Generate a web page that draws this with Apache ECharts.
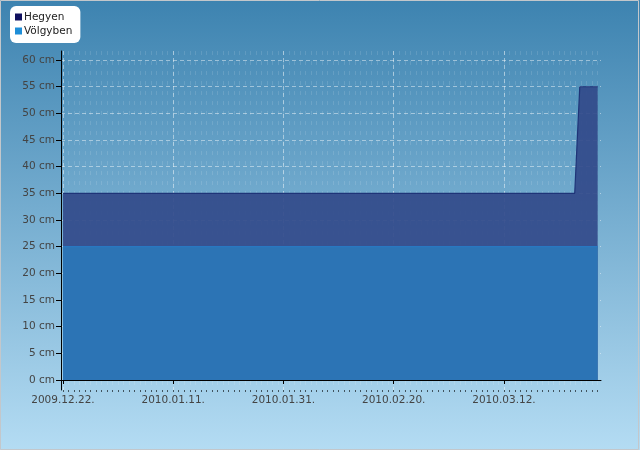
<!DOCTYPE html>
<html><head><meta charset="utf-8">
<script src="https://cdn.jsdelivr.net/npm/echarts@6/dist/echarts.min.js"></script>
<style>html,body{margin:0;padding:0;background:#fff}#c{width:640px;height:450px}</style>
</head><body><div id="c"></div>
<script>
// ---- data ----
const dates = ['2009-12-22 00:00', '2010-03-24 20:00', '2010-03-25 18:00', '2010-03-29 00:00'];
const hegyen = [35, 35, 55, 55];
const volgyben = [25, 25, 25, 25];
const xTickLabels = ['2009.12.22.', '2010.01.11.', '2010.01.31.', '2010.02.20.', '2010.03.12.'];
const yTickValues = [0, 5, 10, 15, 20, 25, 30, 35, 40, 45, 50, 55, 60];
const seriesNames = ['Hegyen', 'Völgyben'];

const DAY = 86400000;
function parseDash(s) {
  const [d, tm] = s.split(' ');
  const p = d.split('-').map(Number);
  const h = tm ? tm.split(':').map(Number) : [0, 0];
  return Date.UTC(p[0], p[1] - 1, p[2], h[0], h[1]);
}
function parseDot(s) { const p = s.split('.').filter(x => x).map(Number); return Date.UTC(p[0], p[1] - 1, p[2]); }
function fmt(v) {
  const d = new Date(v);
  const pad = n => (n < 10 ? '0' : '') + n;
  return d.getUTCFullYear() + '.' + pad(d.getUTCMonth() + 1) + '.' + pad(d.getUTCDate()) + '.';
}
const t0 = parseDash(dates[0]);
const tEnd = parseDash(dates[dates.length - 1]);
const xMajor = xTickLabels.map(parseDot);
const xMinor = [];
for (let t = t0; t <= tEnd; t += DAY) xMinor.push(t);
const xMin = t0 - 0.36 * DAY, xMax = t0 + 97.6 * DAY;

const font = 'DejaVu Sans';
const chart = echarts.init(document.getElementById('c'), null, { renderer: 'canvas' });
chart.setOption({
  animation: false,
  backgroundColor: { type: 'linear', x: 0, y: 0, x2: 0, y2: 1,
    colorStops: [{ offset: 0, color: '#3d83b0' }, { offset: 1, color: '#b4dcf3' }] },
  graphic: [{ type: 'rect', z: 100, silent: true,
    shape: { x: 0.5, y: 0.5, width: 638, height: 449 },
    style: { fill: null, stroke: '#c3c7cb', lineWidth: 1 } }],
  legend: {
    orient: 'vertical', left: 10, top: 6, padding: [5, 8, 6, 5],
    backgroundColor: '#ffffff', borderRadius: 6, itemWidth: 7, itemHeight: 7, itemGap: 2,
    icon: 'rect', data: seriesNames,
    textStyle: { fontFamily: font, fontSize: 10.5, color: '#222', padding: [0, 0, 0, -3], lineHeight: 12 }
  },
  grid: { left: 61, right: 39, top: 51, bottom: 60 },
  xAxis: [{
    type: 'value', min: xMin, max: xMax, position: 'bottom',
    axisLine: { lineStyle: { color: '#000', width: 1 } },
    axisTick: { customValues: xMajor, length: 4, lineStyle: { color: '#000' } },
    axisLabel: { customValues: xMajor, formatter: fmt, fontFamily: font, fontSize: 10.5, color: '#444', margin: 5 },
    splitLine: { show: true, lineStyle: { color: 'rgba(255,255,255,0.45)', type: [4, 3] } }
  }, {
    type: 'value', min: xMin, max: xMax, position: 'bottom',
    axisLine: { show: false },
    axisTick: { customValues: xMinor, length: 2, lineStyle: { color: 'rgba(0,0,0,0.6)' } },
    axisLabel: { show: false, customValues: xMinor },
    splitLine: { show: true, lineStyle: { color: 'rgba(255,255,255,0.12)', type: [4, 6] } }
  }],
  yAxis: {
    type: 'value', min: -1.875, max: 61.7,
    axisLine: { show: true, lineStyle: { color: '#000', width: 1 } },
    axisTick: { show: true, customValues: yTickValues, length: 5, lineStyle: { color: '#000' } },
    axisLabel: { customValues: yTickValues, formatter: v => v + ' cm', fontFamily: font, fontSize: 10.5, color: '#444', margin: 6 },
    splitLine: { show: true, lineStyle: { color: 'rgba(255,255,255,0.45)', type: [4, 3] } }
  },
  series: [{
    name: seriesNames[0], type: 'line', symbol: 'none', color: '#10105e',
    data: dates.map((d, i) => [parseDash(d), hegyen[i]]),
    lineStyle: { color: '#1f3478', width: 1.2 },
    areaStyle: { color: 'rgba(50,74,138,0.92)', opacity: 1 }
  }, {
    name: seriesNames[1], type: 'line', symbol: 'none', color: '#1e8ed8',
    data: dates.map((d, i) => [parseDash(d), volgyben[i]]),
    lineStyle: { color: '#2878c2', width: 1.2 },
    areaStyle: { color: 'rgba(44,118,183,0.94)', opacity: 1 }
  }]
});
</script></body></html>
